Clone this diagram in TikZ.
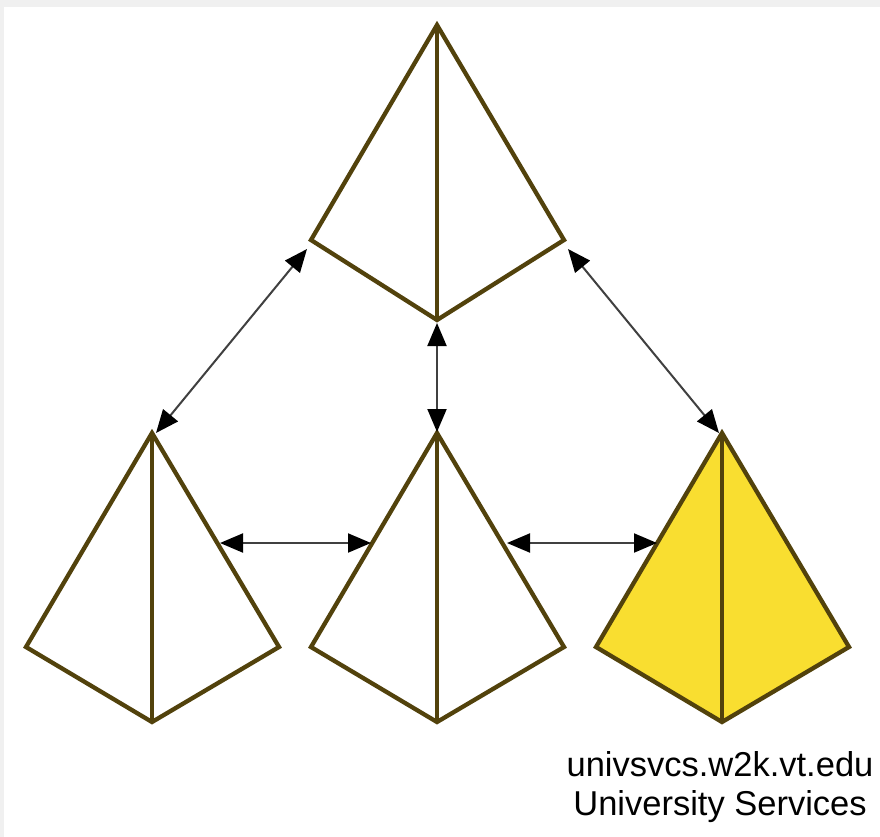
\documentclass[tikz,border=0pt]{standalone}
\usepackage{fontspec}
\setmainfont{Liberation Sans}
\usetikzlibrary{arrows.meta}
\definecolor{edge}{RGB}{82,66,12}
\definecolor{gold}{RGB}{249,222,48}
\definecolor{chk}{RGB}{240,240,240}
\tikzset{
  pyr/.style={draw=edge, line width=4.3pt, line join=miter},
  link/.style={draw=black!75, line width=2pt, {Triangle[length=23pt,width=19pt,color=black]}-{Triangle[length=23pt,width=19pt,color=black]}},
  lbl/.style={font=\fontsize{34.5}{40}\selectfont, align=center, inner sep=0pt}
}
\newcommand{\pyramid}[6]{% name, x, y(apex), side drop, bottom drop, fill
  \coordinate (#1-a) at (#2,#3);
  \coordinate (#1-l) at (#2-126,#3+#4);
  \coordinate (#1-r) at (#2+127,#3+#4);
  \coordinate (#1-b) at (#2,#3+#5);
  \path[pyr, fill=#6] (#1-a) -- (#1-l) -- (#1-b) -- (#1-r) -- cycle;
  \draw[pyr] (#1-a) -- (#1-b);
}
\begin{document}
\begin{tikzpicture}[x=1pt,y=-1pt]
\useasboundingbox (0,0) rectangle (880,837);
\fill[chk] (0,0) rectangle (880,837);
\fill[white] (4,7) rectangle (880,837);
\pyramid{T}{437}{25}{215}{295}{white}
\pyramid{L}{152}{433}{214}{289}{white}
\pyramid{M}{437}{433}{214}{289}{white}
\pyramid{R}{722}{433}{214}{289}{gold}
% arrow end points
\coordinate (tl1) at (307,249);
\coordinate (tl2) at (156,433);
\coordinate (tr1) at (568,249);
\coordinate (tr2) at (719,433);
\coordinate (tm1) at (437,323);
\coordinate (tm2) at (437,432);
\coordinate (h11) at (220,543);
\coordinate (h12) at (371,543);
\coordinate (h21) at (507,543);
\coordinate (h22) at (657,543);
\draw[link] (tl1) -- (tl2);
\draw[link] (tr1) -- (tr2);
\draw[link] (tm1) -- (tm2);
\draw[link] (h11) -- (h12);
\draw[link] (h21) -- (h22);
\node[lbl, anchor=base] (n1) at (720,776) {univsvcs.w2k.vt.edu};
\node[lbl, anchor=base] (n2) at (720,815) {University Services};
\end{tikzpicture}
\end{document}
